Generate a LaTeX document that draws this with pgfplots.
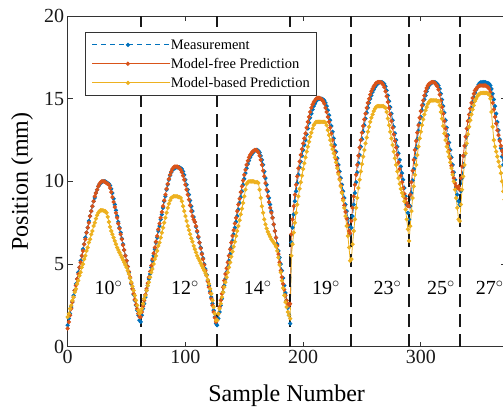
\documentclass[border=0pt]{standalone}
\usepackage{pgfplots}
\usepackage{pgfplotstable}
\pgfplotsset{compat=1.18}
\usepackage{fontspec}
\setmainfont{Liberation Serif}
\definecolor{mblue}{rgb}{0,0.447,0.741}
\definecolor{morange}{rgb}{0.85,0.325,0.098}
\definecolor{myellow}{rgb}{0.929,0.694,0.125}
\pgfplotstableread{
x m f b
0 1.3 1.1 1.8
1 1.7 1.5 2.0
2 2.0 1.9 2.3
3 2.4 2.3 2.5
4 2.7 2.7 2.8
5 3.1 3.0 3.0
6 3.4 3.4 3.3
7 3.8 3.7 3.5
8 4.1 4.1 3.8
9 4.5 4.4 4.0
10 4.8 4.8 4.3
11 5.2 5.1 4.5
12 5.5 5.5 4.8
13 5.9 5.8 5.0
14 6.2 6.2 5.3
15 6.6 6.5 5.5
16 6.9 6.9 5.8
17 7.2 7.2 6.0
18 7.6 7.5 6.3
19 7.9 7.9 6.5
20 8.2 8.2 6.8
21 8.5 8.5 7.0
22 8.8 8.8 7.3
23 9.0 9.1 7.5
24 9.3 9.3 7.75
25 9.5 9.5 7.95
26 9.7 9.7 8.1
27 9.8 9.85 8.2
28 9.9 9.95 8.25
29 9.95 10.0 8.25
30 10.0 10.0 8.25
31 10.0 10.0 8.2
32 10.0 9.95 8.2
33 9.95 9.9 8.1
34 9.9 9.85 7.85
35 9.85 9.8 7.55
36 9.75 9.6 7.25
37 9.55 9.35 7.0
38 9.3 9.05 6.8
39 8.95 8.75 6.6
40 8.6 8.45 6.4
41 8.25 8.1 6.2
42 7.9 7.8 6.0
43 7.55 7.45 5.85
44 7.2 7.15 5.7
45 6.9 6.8 5.55
46 6.55 6.5 5.4
47 6.2 6.15 5.25
48 5.85 5.85 5.1
49 5.5 5.5 4.95
50 5.2 5.2 4.8
51 4.85 4.85 4.6
52 4.5 4.55 4.4
53 4.15 4.2 4.15
54 3.8 3.85 3.9
55 3.5 3.5 3.65
56 3.15 3.2 3.4
57 2.8 2.85 3.1
58 2.5 2.55 2.8
59 2.2 2.3 2.5
60 1.9 2.0 2.2
61 1.6 1.8 2.0
62 1.5 1.8 2.1
63 1.9 2.1 2.3
64 2.3 2.45 2.6
65 2.6 2.8 2.9
66 3.0 3.15 3.1
67 3.4 3.5 3.4
68 3.7 3.85 3.7
69 4.1 4.2 3.9
70 4.4 4.55 4.2
71 4.8 4.9 4.5
72 5.2 5.3 4.7
73 5.5 5.65 5.0
74 5.9 6.0 5.3
75 6.3 6.35 5.5
76 6.6 6.7 5.8
77 7.0 7.1 6.1
78 7.3 7.45 6.3
79 7.7 7.8 6.6
80 8.0 8.15 6.9
81 8.4 8.5 7.2
82 8.8 8.85 7.5
83 9.1 9.2 7.8
84 9.5 9.55 8.1
85 9.8 9.85 8.4
86 10.1 10.15 8.65
87 10.35 10.4 8.85
88 10.55 10.6 9.0
89 10.7 10.75 9.05
90 10.75 10.85 9.1
91 10.8 10.9 9.1
92 10.85 10.9 9.1
93 10.85 10.9 9.1
94 10.85 10.85 9.05
95 10.85 10.8 9.05
96 10.8 10.7 9.0
97 10.75 10.55 8.8
98 10.6 10.35 8.5
99 10.4 10.1 8.2
100 10.1 9.8 7.9
101 9.8 9.5 7.6
102 9.5 9.2 7.3
103 9.2 8.9 7.05
104 8.85 8.55 6.8
105 8.5 8.2 6.55
106 8.2 7.9 6.35
107 7.85 7.7 6.1
108 7.55 7.55 5.9
109 7.25 7.3 5.7
110 6.95 7.0 5.5
111 6.6 6.65 5.35
112 6.3 6.3 5.2
113 6.0 5.95 5.05
114 5.65 5.6 4.9
115 5.35 5.3 4.75
116 5.0 4.95 4.6
117 4.7 4.6 4.45
118 4.35 4.3 4.3
119 4.0 3.95 4.05
120 3.7 3.6 3.8
121 3.35 3.25 3.5
122 3.0 2.9 3.2
123 2.6 2.5 2.8
124 2.2 2.1 2.4
125 1.8 1.75 2.0
126 1.4 1.5 1.6
127 1.3 1.6 1.6
128 1.7 2.0 2.0
129 2.1 2.4 2.3
130 2.5 2.8 2.6
131 2.9 3.2 3.0
132 3.3 3.6 3.3
133 3.7 4.0 3.6
134 4.1 4.4 3.9
135 4.5 4.75 4.2
136 4.8 5.1 4.5
137 5.2 5.5 4.8
138 5.6 5.9 5.1
139 6.0 6.3 5.45
140 6.4 6.7 5.75
141 6.8 7.05 6.05
142 7.2 7.45 6.35
143 7.55 7.8 6.7
144 7.9 8.2 7.0
145 8.3 8.6 7.3
146 8.7 8.95 7.65
147 9.05 9.35 8.0
148 9.4 9.7 8.35
149 9.8 10.05 8.7
150 10.15 10.4 9.1
151 10.5 10.7 9.5
152 10.8 11.0 9.85
153 11.05 11.25 9.95
154 11.25 11.45 10.0
155 11.45 11.6 10.0
156 11.6 11.7 10.0
157 11.7 11.8 10.0
158 11.8 11.85 10.0
159 11.85 11.9 9.95
160 11.9 11.9 9.95
161 11.9 11.85 9.95
162 11.85 11.75 9.9
163 11.75 11.55 9.5
164 11.55 11.3 9.0
165 11.3 11.0 8.5
166 11.0 10.65 8.1
167 10.6 10.3 7.7
168 10.2 9.9 7.4
169 9.8 9.5 7.15
170 9.4 9.1 6.95
171 9.0 8.75 6.8
172 8.6 8.4 6.65
173 8.2 8.1 6.5
174 7.8 7.8 6.4
175 7.4 7.4 6.3
176 7.0 7.0 6.2
177 6.6 6.6 6.05
178 6.2 6.1 5.8
179 5.8 5.6 5.4
180 5.4 5.1 4.95
181 5.0 4.6 4.5
182 4.6 4.2 4.0
183 4.15 3.8 3.55
184 3.7 3.45 3.1
185 3.25 3.1 2.7
186 2.8 2.8 2.4
187 2.35 2.6 2.1
188 1.9 2.5 1.9
189 1.4 2.6 1.7
190 6.3 6.8 5.5
191 7.2 7.7 6.2
192 8.0 8.5 6.9
193 8.8 9.2 7.5
194 9.4 9.8 8.1
195 9.9 10.3 8.6
196 10.4 10.8 9.1
197 10.85 11.2 9.55
198 11.2 11.6 9.95
199 11.55 11.95 10.35
200 11.9 12.3 10.75
201 12.2 12.6 11.1
202 12.5 12.9 11.45
203 12.85 13.25 11.8
204 13.2 13.6 12.1
205 13.55 13.9 12.4
206 13.85 14.2 12.7
207 14.1 14.45 12.95
208 14.35 14.65 13.2
209 14.55 14.8 13.4
210 14.7 14.9 13.5
211 14.85 15.0 13.6
212 14.95 15.05 13.6
213 15.0 15.05 13.6
214 15.0 15.05 13.6
215 15.0 15.0 13.6
216 15.0 14.95 13.6
217 14.95 14.85 13.6
218 14.9 14.7 13.6
219 14.75 14.45 13.55
220 14.55 14.2 13.4
221 14.3 13.9 13.1
222 14.0 13.6 12.8
223 13.7 13.25 12.5
224 13.35 12.9 12.2
225 13.0 12.5 11.95
226 12.6 12.1 11.7
227 12.2 11.75 11.45
228 11.8 11.35 11.15
229 11.4 10.95 10.8
230 11.0 10.55 10.45
231 10.6 10.15 10.1
232 10.2 9.75 9.7
233 9.8 9.35 9.3
234 9.4 8.95 8.85
235 9.0 8.55 8.4
236 8.6 8.15 7.9
237 8.2 7.75 7.3
238 7.75 7.35 6.7
239 7.3 7.0 6.0
240 6.8 6.85 5.2
241 7.2 7.6 5.3
242 7.9 8.4 6.2
243 8.6 9.1 7.0
244 9.3 9.8 7.7
245 9.95 10.4 8.4
246 10.55 11.0 9.0
247 11.1 11.55 9.6
248 11.6 12.05 10.1
249 12.1 12.5 10.6
250 12.55 12.95 11.05
251 13.0 13.35 11.5
252 13.4 13.75 11.9
253 13.8 14.1 12.3
254 14.15 14.45 12.65
255 14.45 14.75 13.0
256 14.75 15.0 13.3
257 15.0 15.25 13.6
258 15.2 15.45 13.85
259 15.4 15.6 14.05
260 15.55 15.75 14.25
261 15.7 15.85 14.4
262 15.8 15.95 14.5
263 15.9 16.0 14.55
264 15.95 16.0 14.55
265 16.0 16.0 14.55
266 16.0 16.0 14.55
267 16.0 15.95 14.55
268 15.95 15.85 14.55
269 15.9 15.7 14.5
270 15.75 15.45 14.45
271 15.5 15.15 14.2
272 15.2 14.8 13.8
273 14.85 14.45 13.4
274 14.5 14.05 13.0
275 14.1 13.65 12.6
276 13.7 13.25 12.2
277 13.3 12.85 11.8
278 12.9 12.45 11.4
279 12.5 12.05 11.0
280 12.1 11.6 10.6
281 11.7 11.15 10.2
282 11.3 10.75 9.85
283 10.9 10.35 9.55
284 10.5 9.95 9.3
285 10.1 9.6 9.1
286 9.6 9.25 8.8
287 9.1 8.95 8.3
288 8.6 8.7 7.7
289 8.1 8.5 7.1
290 7.7 8.5 6.4
291 8.5 9.2 7.3
292 9.3 9.95 8.2
293 10.05 10.65 9.0
294 10.75 11.3 9.7
295 11.4 11.9 10.4
296 12.0 12.45 11.0
297 12.55 12.95 11.6
298 13.05 13.4 12.1
299 13.5 13.85 12.6
300 13.9 14.25 13.0
301 14.3 14.6 13.4
302 14.65 14.9 13.75
303 14.95 15.2 14.05
304 15.2 15.45 14.3
305 15.45 15.65 14.5
306 15.65 15.8 14.7
307 15.8 15.9 14.8
308 15.9 15.95 14.9
309 15.95 16.0 14.9
310 16.0 16.0 14.9
311 16.0 16.0 14.9
312 16.0 15.95 14.9
313 15.95 15.85 14.9
314 15.9 15.75 14.85
315 15.8 15.55 14.85
316 15.6 15.25 14.6
317 15.3 14.9 14.2
318 14.95 14.5 13.8
319 14.55 14.1 13.35
320 14.15 13.65 12.9
321 13.7 13.2 12.5
322 13.25 12.75 12.1
323 12.8 12.3 11.8
324 12.35 11.85 11.5
325 11.9 11.4 11.15
326 11.45 10.95 10.8
327 11.0 10.55 10.4
328 10.55 10.2 10.0
329 10.1 9.9 9.5
330 9.65 9.7 9.0
331 9.2 9.6 8.4
332 8.8 9.7 7.7
333 8.6 9.5 7.6
334 9.4 10.2 8.6
335 10.2 10.9 9.5
336 10.9 11.55 10.3
337 11.6 12.15 11.0
338 12.2 12.7 11.7
339 12.75 13.2 12.3
340 13.25 13.65 12.85
341 13.7 14.05 13.3
342 14.1 14.4 13.7
343 14.45 14.75 14.05
344 14.8 15.05 14.35
345 15.1 15.3 14.6
346 15.35 15.5 14.85
347 15.55 15.6 15.0
348 15.7 15.7 15.15
349 15.85 15.75 15.25
350 15.95 15.8 15.3
351 16.0 15.8 15.35
352 16.0 15.8 15.35
353 16.0 15.8 15.35
354 16.0 15.8 15.35
355 16.0 15.8 15.35
356 15.95 15.75 15.35
357 15.95 15.7 15.3
358 15.9 15.6 15.25
359 15.8 15.4 15.0
360 15.6 15.1 14.2
361 15.3 14.75 13.3
362 14.95 14.35 12.5
363 14.55 13.9 12.1
364 14.1 13.5 11.8
365 13.6 13.1 11.5
366 13.1 12.8 11.2
367 12.55 12.45 10.9
368 12.0 12.15 10.5
369 11.5 11.85 10.0
370 11.0 11.6 9.4
371 10.5 11.3 8.9
}\datatable
\begin{document}
\begin{tikzpicture}
\begin{axis}[
  at={(0pt,0pt)}, anchor=south west,
  scale only axis, width=437.9pt, height=330.6pt,
  xmin=0, xmax=372, ymin=0, ymax=20,
  xtick={0,100,200,300}, ytick={0,5,10,15,20},
  tick align=inside, major tick length=5pt,
  axis line style={line width=0.9pt, color=black!80},
  every tick/.style={line width=0.9pt, color=black!80},
  /pgf/number format/assume math mode=true,
  ticklabel style={font=\fontsize{20}{24}\selectfont, text=black!90},
  every axis x label/.style={at={(axis description cs:0.5,-0.1664)}, anchor=base, font=\fontsize{24}{28}\selectfont},
  every axis y label/.style={at={(axis description cs:-0.1044,0.5)}, anchor=center, rotate=90, font=\fontsize{24}{28}\selectfont},
  xlabel={Sample Number}, ylabel={Position (mm)},
  legend style={at={(axis description cs:0.0388,0.951)}, anchor=north west,
    draw=black!80, line width=0.7pt, fill=white,
    font=\fontsize{14.5}{17}\selectfont, inner xsep=7pt, inner ysep=7.5pt,
    row sep=9pt, legend cell align=left,
    nodes={inner sep=0pt, text depth=0pt}},
  legend image code/.code={%
    \draw[#1, mark=none] (0pt,0pt) -- (71pt,0pt);
    \draw[#1, draw=none] plot coordinates {(35.5pt,0pt)};
    \path (0pt,0pt) -- (78pt,0pt);},
]
\addplot[mblue, line width=0.8pt, dash pattern=on 5pt off 4pt, mark=*, mark size=1.7pt, mark options={solid}] table[x=x,y=m] {\datatable};
\addlegendentry{Measurement}
\addplot[morange, line width=0.8pt, mark=*, mark size=1.7pt] table[x=x,y=f] {\datatable};
\addlegendentry{Model-free Prediction}
\addplot[myellow, line width=0.8pt, mark=*, mark size=1.7pt] table[x=x,y=b] {\datatable};
\addlegendentry{Model-based Prediction}
\addplot[forget plot, black!90, line width=1.8pt, dash pattern=on 13pt off 7pt] coordinates {(62.3,0) (62.3,20)};
\addplot[forget plot, black!90, line width=1.8pt, dash pattern=on 13pt off 7pt] coordinates {(126.8,0) (126.8,20)};
\addplot[forget plot, black!90, line width=1.8pt, dash pattern=on 13pt off 7pt] coordinates {(188.9,0) (188.9,20)};
\addplot[forget plot, black!90, line width=1.8pt, dash pattern=on 13pt off 7pt] coordinates {(240.7,0) (240.7,20)};
\addplot[forget plot, black!90, line width=1.8pt, dash pattern=on 13pt off 7pt] coordinates {(290.2,0) (290.2,20)};
\addplot[forget plot, black!90, line width=1.8pt, dash pattern=on 13pt off 7pt] coordinates {(333.3,0) (333.3,20)};
\node[font=\fontsize{20}{24}\selectfont] at (axis cs:34.7,3.55) {10$^\circ$};
\node[font=\fontsize{20}{24}\selectfont] at (axis cs:99.6,3.55) {12$^\circ$};
\node[font=\fontsize{20}{24}\selectfont] at (axis cs:161.5,3.55) {14$^\circ$};
\node[font=\fontsize{20}{24}\selectfont] at (axis cs:219.3,3.55) {19$^\circ$};
\node[font=\fontsize{20}{24}\selectfont] at (axis cs:271.7,3.55) {23$^\circ$};
\node[font=\fontsize{20}{24}\selectfont] at (axis cs:317,3.55) {25$^\circ$};
\node[font=\fontsize{20}{24}\selectfont] at (axis cs:358.5,3.55) {27$^\circ$};
\end{axis}
\pgfresetboundingbox
\path[use as bounding box] (-67.7pt,-61.3pt) rectangle (435.3pt,346.7pt);
\end{tikzpicture}
\end{document}
